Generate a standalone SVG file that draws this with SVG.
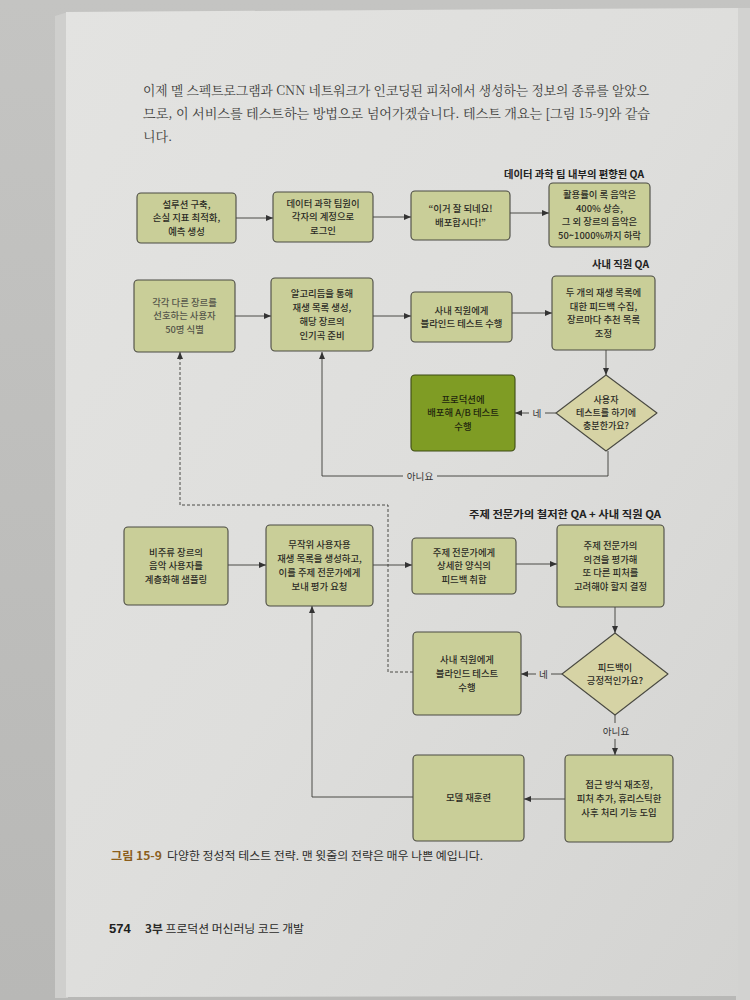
<svg xmlns="http://www.w3.org/2000/svg" width="750" height="1000" viewBox="0 0 750 1000">
<defs>
<linearGradient id="pageg" x1="0" y1="0" x2="1" y2="1">
<stop offset="0" stop-color="#e3e3e1"/>
<stop offset="0.5" stop-color="#dededc"/>
<stop offset="1" stop-color="#d3d3d1"/>
</linearGradient>
<linearGradient id="bgg" x1="0" y1="0" x2="0" y2="1">
<stop offset="0" stop-color="#c4c4c2"/>
<stop offset="1" stop-color="#b8b8b6"/>
</linearGradient>
<marker id="ah" markerUnits="userSpaceOnUse" markerWidth="7" markerHeight="6" refX="7" refY="3" orient="auto">
<path d="M0,0 L7,3 L0,6 z" fill="#333"/>
</marker>
<style>
.box{fill:#c9ce98;stroke:#4a4a42;stroke-width:1.1}
.dia{fill:#d6d3a5;stroke:#4a4a42;stroke-width:1.1;stroke-linejoin:round}
.hot{fill:#7f9c24;stroke:#3c4a14;stroke-width:1.1}
.t{font-family:'Noto Sans CJK KR','Noto Sans CJK SC',sans-serif;font-size:9.4px;font-weight:500;fill:#2b2b25;text-anchor:middle}
.td{font-family:'Noto Sans CJK KR','Noto Sans CJK SC',sans-serif;font-size:9px;font-weight:500;fill:#2b2b25;text-anchor:middle}
.hd{font-family:'Noto Sans CJK KR','Noto Sans CJK SC',sans-serif;font-size:10px;font-weight:bold;fill:#222;text-anchor:end}
.lb{font-family:'Noto Sans CJK KR','Noto Sans CJK SC',sans-serif;font-size:9.6px;fill:#333;text-anchor:middle}
.para{font-family:'Noto Serif CJK KR','Noto Sans CJK KR',serif;font-size:13px;fill:#3c3c3a}
.ln{fill:none;stroke:#3a3a36;stroke-width:0.9}
.dash{fill:none;stroke:#3a3a36;stroke-width:0.9;stroke-dasharray:3 2}
.cap{font-family:'Noto Sans CJK KR','Noto Sans CJK SC',sans-serif;font-size:11px;fill:#2e2e2c}
.capb{font-family:'Noto Sans CJK KR','Noto Sans CJK SC',sans-serif;font-size:11px;font-weight:bold;fill:#8b5e1c}
</style>
</defs>
<rect x="0" y="0" width="750" height="1000" fill="url(#bgg)"/>
<polygon points="55,16 68,12 68,998 55,998" fill="#cfcfcd"/>
<rect x="736" y="8" width="14" height="992" fill="#d2d2d0"/>
<polygon points="66,12 738,8 738,996 66,997" fill="url(#pageg)"/>

<text class="para" x="143" y="95" textLength="506" lengthAdjust="spacingAndGlyphs">이제 멜 스펙트로그램과 CNN 네트워크가 인코딩된 피처에서 생성하는 정보의 종류를 알았으</text>
<text class="para" x="143" y="118" textLength="507" lengthAdjust="spacingAndGlyphs">므로, 이 서비스를 테스트하는 방법으로 넘어가겠습니다. 테스트 개요는 [그림 15-9]와 같습</text>
<text class="para" x="143" y="141">니다.</text>

<text class="hd" x="644" y="178" textLength="140" lengthAdjust="spacingAndGlyphs">데이터 과학 팀 내부의 편향된 QA</text>
<text class="hd" x="649" y="268" textLength="57" lengthAdjust="spacingAndGlyphs">사내 직원 QA</text>
<text class="hd" x="661" y="518" textLength="192" lengthAdjust="spacingAndGlyphs">주제 전문가의 철저한 QA + 사내 직원 QA</text>

<g id="connectors">
<line class="ln" x1="236" y1="218" x2="273" y2="218" marker-end="url(#ah)"/>
<line class="ln" x1="373" y1="217" x2="411" y2="217" marker-end="url(#ah)"/>
<line class="ln" x1="510" y1="213" x2="549" y2="213" marker-end="url(#ah)"/>
<line class="ln" x1="235" y1="316" x2="271" y2="316" marker-end="url(#ah)"/>
<line class="ln" x1="373" y1="316" x2="411" y2="316" marker-end="url(#ah)"/>
<line class="ln" x1="512" y1="313" x2="552" y2="313" marker-end="url(#ah)"/>
<line class="ln" x1="606" y1="350" x2="606" y2="375" marker-end="url(#ah)"/>
<line class="ln" x1="556" y1="413" x2="545" y2="413"/>
<line class="ln" x1="529" y1="413" x2="515" y2="413" marker-end="url(#ah)"/>
<text class="lb" x="537" y="416.5">네</text>
<polyline class="ln" points="608,451 608,476 437,476"/>
<polyline class="ln" points="403,476 322,476 322,352" marker-end="url(#ah)"/>
<text class="lb" x="420" y="479.5">아니요</text>
<polyline class="dash" points="413,672 388,672 388,505 180,505 180,352" marker-end="url(#ah)"/>
<line class="ln" x1="228" y1="565" x2="266" y2="565" marker-end="url(#ah)"/>
<line class="ln" x1="373" y1="565" x2="412" y2="565" marker-end="url(#ah)"/>
<line class="ln" x1="516" y1="564" x2="557" y2="564" marker-end="url(#ah)"/>
<line class="ln" x1="615" y1="607" x2="615" y2="633" marker-end="url(#ah)"/>
<line class="ln" x1="563" y1="674" x2="551" y2="674"/>
<line class="ln" x1="536" y1="674" x2="521" y2="674" marker-end="url(#ah)"/>
<text class="lb" x="543.5" y="677.5">네</text>
<line class="ln" x1="615" y1="715" x2="615" y2="723"/>
<line class="ln" x1="615" y1="739" x2="615" y2="755" marker-end="url(#ah)"/>
<text class="lb" x="616" y="734.5">아니요</text>
<line class="ln" x1="565" y1="799" x2="524" y2="799" marker-end="url(#ah)"/>
<polyline class="ln" points="413,797 312,797 312,606" marker-end="url(#ah)"/>
</g>

<g id="nA"><rect class="box" x="137" y="193" width="99" height="50" rx="4"/>
<text class="t" x="186.5" y="207.7"><tspan x="186.5">설루션 구축,</tspan><tspan x="186.5" dy="13.7">손실 지표 최적화,</tspan><tspan x="186.5" dy="13.7">예측 생성</tspan></text></g>
<g id="nB"><rect class="box" x="273" y="192" width="100" height="50" rx="4"/>
<text class="t" x="323" y="206.7"><tspan x="323">데이터 과학 팀원이</tspan><tspan x="323" dy="13.7">각자의 계정으로</tspan><tspan x="323" dy="13.7">로그인</tspan></text></g>
<g id="nC"><rect class="box" x="411" y="191" width="99" height="49" rx="4"/>
<text class="t" x="460.5" y="212"><tspan x="460.5">“이거 잘 되네요!</tspan><tspan x="460.5" dy="13.7">배포합시다!”</tspan></text></g>
<g id="nD"><rect class="box" x="549" y="183" width="101" height="64" rx="4"/>
<text class="t" x="599.5" y="197.9"><tspan x="599.5">활용률이 록 음악은</tspan><tspan x="599.5" dy="13.7">400% 상승,</tspan><tspan x="599.5" dy="13.7">그 외 장르의 음악은</tspan><tspan x="599.5" dy="13.7">50~1000%까지 하락</tspan></text></g>

<g id="nE"><rect class="box" x="134" y="280" width="101" height="72" rx="4"/>
<text class="t" x="184.5" y="305.7" style="fill:#55554a"><tspan x="184.5">각각 다른 장르를</tspan><tspan x="184.5" dy="13.7">선호하는 사용자</tspan><tspan x="184.5" dy="13.7">50명 식별</tspan></text></g>
<g id="nF"><rect class="box" x="271" y="278" width="102" height="73" rx="4"/>
<text class="t" x="322" y="297.4"><tspan x="322">알고리듬을 통해</tspan><tspan x="322" dy="13.7">재생 목록 생성,</tspan><tspan x="322" dy="13.7">해당 장르의</tspan><tspan x="322" dy="13.7">인기곡 준비</tspan></text></g>
<g id="nG"><rect class="box" x="411" y="292" width="101" height="50" rx="4"/>
<text class="t" x="461.5" y="313.6"><tspan x="461.5">사내 직원에게</tspan><tspan x="461.5" dy="13.7">블라인드 테스트 수행</tspan></text></g>
<g id="nH"><rect class="box" x="552" y="276" width="103" height="74" rx="4"/>
<text class="t" x="603.5" y="295.9"><tspan x="603.5">두 개의 재생 목록에</tspan><tspan x="603.5" dy="13.7">대한 피드백 수집,</tspan><tspan x="603.5" dy="13.7">장르마다 추천 목록</tspan><tspan x="603.5" dy="13.7">조정</tspan></text></g>

<g id="nI"><polygon class="dia" points="606,375 657,413 606,451 556,413"/>
<text class="td" x="606" y="403.1"><tspan x="606">사용자</tspan><tspan x="606" dy="13.1">테스트를 하기에</tspan><tspan x="606" dy="13.1">충분한가요?</tspan></text></g>
<g id="nJ"><rect class="hot" x="411" y="375" width="104" height="76" rx="4"/>
<text class="t" x="463" y="402.7" style="fill:#22260e"><tspan x="463">프로덕션에</tspan><tspan x="463" dy="13.7">배포해 A/B 테스트</tspan><tspan x="463" dy="13.7">수행</tspan></text></g>

<g id="nK"><rect class="box" x="124" y="527" width="104" height="78" rx="4"/>
<text class="t" x="176" y="555.7"><tspan x="176">비주류 장르의</tspan><tspan x="176" dy="13.7">음악 사용자를</tspan><tspan x="176" dy="13.7">계층화해 샘플링</tspan></text></g>
<g id="nL"><rect class="box" x="266" y="525" width="107" height="81" rx="4"/>
<text class="t" x="319.5" y="548.4"><tspan x="319.5">무작위 사용자용</tspan><tspan x="319.5" dy="13.7">재생 목록을 생성하고,</tspan><tspan x="319.5" dy="13.7">이를 주제 전문가에게</tspan><tspan x="319.5" dy="13.7">보내 평가 요청</tspan></text></g>
<g id="nM"><rect class="box" x="412" y="538" width="104" height="56" rx="4"/>
<text class="t" x="464" y="555.7"><tspan x="464">주제 전문가에게</tspan><tspan x="464" dy="13.7">상세한 양식의</tspan><tspan x="464" dy="13.7">피드백 취합</tspan></text></g>
<g id="nN"><rect class="box" x="557" y="525" width="107" height="82" rx="4"/>
<text class="t" x="610.5" y="548.9"><tspan x="610.5">주제 전문가의</tspan><tspan x="610.5" dy="13.7">의견을 평가해</tspan><tspan x="610.5" dy="13.7">또 다른 피처를</tspan><tspan x="610.5" dy="13.7">고려해야 할지 결정</tspan></text></g>

<g id="nO"><polygon class="dia" points="615,633 668,674 615,715 562,674"/>
<text class="t" x="615" y="670.6"><tspan x="615">피드백이</tspan><tspan x="615" dy="13.7">긍정적인가요?</tspan></text></g>
<g id="nP"><rect class="box" x="413" y="632" width="108" height="83" rx="4"/>
<text class="t" x="467" y="663.2"><tspan x="467">사내 직원에게</tspan><tspan x="467" dy="13.7">블라인드 테스트</tspan><tspan x="467" dy="13.7">수행</tspan></text></g>

<g id="nQ"><rect class="box" x="565" y="755" width="108" height="87" rx="4"/>
<text class="t" x="619" y="788.2"><tspan x="619">접근 방식 재조정,</tspan><tspan x="619" dy="13.7">피처 추가, 휴리스틱한</tspan><tspan x="619" dy="13.7">사후 처리 기능 도입</tspan></text></g>
<g id="nR"><rect class="box" x="413" y="755" width="111" height="86" rx="4"/>
<text class="t" x="468.5" y="801.4">모델 재훈련</text></g>

<text class="capb" x="111" y="860" textLength="51" lengthAdjust="spacingAndGlyphs">그림 15-9</text>
<text class="cap" x="167" y="860" textLength="316" lengthAdjust="spacingAndGlyphs">다양한 정성적 테스트 전략. 맨 윗줄의 전략은 매우 나쁜 예입니다.</text>

<text x="109" y="933" font-family="'Liberation Sans','Noto Sans CJK KR',sans-serif" font-size="13px" font-weight="bold" fill="#1e1e1e">574</text>
<text x="145" y="932.5" font-family="'Noto Sans CJK KR','Noto Sans CJK SC',sans-serif" font-size="11px" fill="#2a2a28" textLength="159" lengthAdjust="spacingAndGlyphs"><tspan font-weight="bold">3부</tspan> 프로덕션 머신러닝 코드 개발</text>
</svg>
